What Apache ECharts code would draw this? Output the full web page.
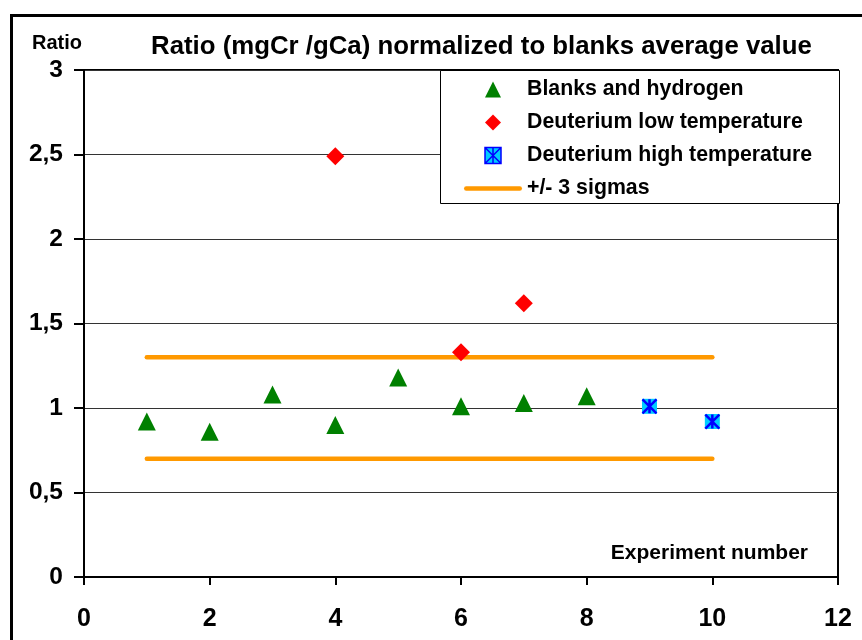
<!DOCTYPE html>
<html>
<head>
<meta charset="utf-8">
<style>
  html, body { margin: 0; padding: 0; background: #fff; }
  #chart { width: 862px; height: 640px; }
</style>
<script src="https://cdn.jsdelivr.net/npm/echarts@6/dist/echarts.min.js"></script>
</head>
<body>
<div id="chart"></div>
<script>
// ---- data ----
const blanksX = [1, 2, 3, 4, 5, 6, 7, 8];
const blanksY = [0.92, 0.86, 1.08, 0.90, 1.18, 1.01, 1.03, 1.07];
const lowTempX = [4, 6, 7];
const lowTempY = [2.49, 1.33, 1.62];
const highTempX = [9, 10];
const highTempY = [1.01, 0.92];
const sigmaX = [1, 10];
const sigmaUpper = 1.3;
const sigmaLower = 0.7;
const yTickLabels = ['0', '0,5', '1', '1,5', '2', '2,5', '3'];
const seriesNames = ['Blanks and hydrogen', 'Deuterium low temperature', 'Deuterium high temperature', '+/- 3 sigmas'];
const titleText = 'Ratio (mgCr /gCa) normalized to blanks average value';

const zip = (xs, ys) => xs.map((x, i) => [x, ys[i]]);
const FONT = 'Liberation Sans, Arial, sans-serif';
const starPath = 'path://M0 0H10V10H0Z M0 0L10 10 M10 0L0 10 M5 0V10';
const asteriskPath = 'path://M0 0L10 10 M10 0L0 10 M5 0V10';
const trianglePath = 'path://M5 0L10 10H0Z';
const diamondPath = 'path://M5 0L10 5L5 10L0 5Z';
const linePath = 'path://M2.25 0H55.75A2.25 2.25 0 0 1 55.75 4.5H2.25A2.25 2.25 0 0 1 2.25 0Z';

const chart = echarts.init(document.getElementById('chart'), null, { renderer: 'canvas' });
chart.setOption({
  backgroundColor: '#fff',
  animation: false,
  title: {
    text: titleText,
    left: 146,
    top: 29,
    textStyle: { fontFamily: FONT, fontWeight: 'bold', fontSize: 25.8, color: '#000' }
  },
  grid: {
    left: 84, right: 24, top: 70, bottom: 63,
    show: true, borderColor: '#000', borderWidth: 2, backgroundColor: '#fff'
  },
  xAxis: {
    type: 'value', min: 0, max: 12, interval: 2,
    name: 'Experiment number',
    nameLocation: 'end',
    nameGap: -30,
    nameTextStyle: { fontFamily: FONT, fontWeight: 'bold', fontSize: 21, color: '#000', align: 'right', verticalAlign: 'bottom', padding: [0, 0, 13, 0] },
    axisLine: { show: true, onZero: false, lineStyle: { color: '#000', width: 2 } },
    axisTick: { show: true, length: 8, lineStyle: { color: '#000', width: 2 } },
    axisLabel: { margin: 30, fontFamily: FONT, fontWeight: 'bold', fontSize: 25, color: '#000' },
    splitLine: { show: false }
  },
  yAxis: {
    type: 'value', min: 0, max: 3, interval: 0.5,
    name: 'Ratio',
    nameLocation: 'end',
    nameGap: 17,
    nameTextStyle: { fontFamily: FONT, fontWeight: 'bold', fontSize: 20, color: '#000', align: 'right', padding: [0, 2, 0, 0] },
    axisLine: { show: true, onZero: false, lineStyle: { color: '#000', width: 2 } },
    axisTick: { show: true, length: 10, lineStyle: { color: '#000', width: 2 } },
    axisLabel: {
      margin: 21, fontFamily: FONT, fontWeight: 'bold', fontSize: 24.5, color: '#000',
      formatter: (v) => yTickLabels[Math.round(v / 0.5)]
    },
    splitLine: { show: true, lineStyle: { color: '#333', width: 1 } }
  },
  legend: {
    orient: 'vertical',
    left: 464, top: 79,
    itemWidth: 58, itemHeight: 16, itemGap: 12,
    padding: 0,
    z: 10,
    symbolKeepAspect: true,
    textStyle: { fontFamily: FONT, fontWeight: 'bold', fontSize: 21.3, color: '#000' },
    data: [
      { name: seriesNames[0], icon: trianglePath },
      { name: seriesNames[1], icon: diamondPath },
      { name: seriesNames[2], icon: starPath,
        itemStyle: { color: '#00CCFF', borderColor: '#0000FF', borderWidth: 1.5 } },
      { name: seriesNames[3], icon: linePath, itemStyle: { color: '#FF9900' } }
    ]
  },
  graphic: [
    {
      type: 'rect', z: 8,
      shape: { x: 440.5, y: 70.5, width: 399, height: 133 },
      style: { fill: '#fff', stroke: '#000', lineWidth: 1 }
    },
    {
      type: 'rect', z: 8,
      shape: { x: 11.5, y: 15.5, width: 900, height: 700 },
      style: { fill: 'none', stroke: '#000', lineWidth: 3 }
    }
  ],
  series: [
    {
      name: seriesNames[3], type: 'line', data: zip(sigmaX, [sigmaUpper, sigmaUpper]),
      symbol: 'none', z: 2,
      lineStyle: { color: '#FF9900', width: 4.5, cap: 'round' },
      itemStyle: { color: '#FF9900' }
    },
    {
      name: seriesNames[3], type: 'line', data: zip(sigmaX, [sigmaLower, sigmaLower]),
      symbol: 'none', z: 2,
      lineStyle: { color: '#FF9900', width: 4.5, cap: 'round' },
      itemStyle: { color: '#FF9900' }
    },
    {
      name: seriesNames[0], type: 'scatter', data: zip(blanksX, blanksY),
      symbol: 'triangle', symbolSize: 18, z: 3,
      itemStyle: { color: '#008000', opacity: 1 }
    },
    {
      name: seriesNames[1], type: 'scatter', data: zip(lowTempX, lowTempY),
      symbol: 'diamond', symbolSize: 18, z: 3,
      itemStyle: { color: '#FF0000', opacity: 1 }
    },
    {
      name: seriesNames[2], type: 'scatter', data: zip(highTempX, highTempY),
      symbol: 'rect', symbolSize: 15, z: 3,
      itemStyle: { color: '#00CCFF', opacity: 1 }
    },
    {
      name: 'high-temperature-asterisk', type: 'scatter', data: zip(highTempX, highTempY),
      symbol: asteriskPath, symbolSize: 14, z: 4, silent: true,
      itemStyle: { color: '#0000FF', borderColor: '#0000FF', borderWidth: 2.5, opacity: 1 }
    }
  ]
});
</script>
</body>
</html>
